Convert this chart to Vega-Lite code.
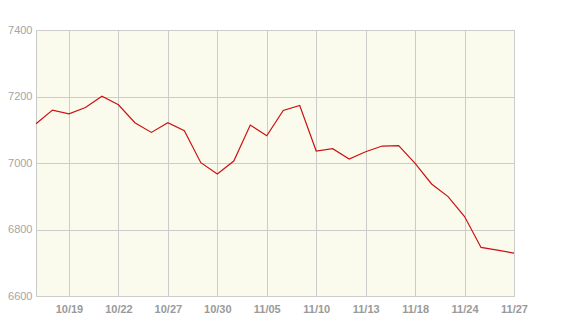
{
  "$schema": "https://vega.github.io/schema/vega-lite/v6.json",
  "width": 478,
  "height": 266,
  "autosize": "none",
  "padding": {"left": 36, "top": 30, "right": 60, "bottom": 24},
  "background": "#ffffff",
  "config": {
    "view": {"fill": "#fbfbed", "stroke": "#c8c8c8", "strokeWidth": 1},
    "axis": {"labelFont": "Liberation Sans", "labelColor": "#999999", "labelFontSize": 11, "gridColor": "#cccccc", "gridWidth": 1, "ticks": false, "domain": false, "title": null}
  },
  "data": {
    "values": [
      {"date": "10/15", "v": 7118}, {"date": "10/16", "v": 7159}, {"date": "10/19", "v": 7148},
      {"date": "10/20", "v": 7167}, {"date": "10/21", "v": 7201}, {"date": "10/22", "v": 7175},
      {"date": "10/23", "v": 7121}, {"date": "10/26", "v": 7092}, {"date": "10/27", "v": 7121},
      {"date": "10/28", "v": 7097}, {"date": "10/29", "v": 7001}, {"date": "10/30", "v": 6967},
      {"date": "11/02", "v": 7006}, {"date": "11/04", "v": 7114}, {"date": "11/05", "v": 7082},
      {"date": "11/06", "v": 7158}, {"date": "11/09", "v": 7173}, {"date": "11/10", "v": 7036},
      {"date": "11/11", "v": 7043}, {"date": "11/12", "v": 7012}, {"date": "11/13", "v": 7034},
      {"date": "11/16", "v": 7051}, {"date": "11/17", "v": 7052}, {"date": "11/18", "v": 6999},
      {"date": "11/19", "v": 6937}, {"date": "11/20", "v": 6899}, {"date": "11/24", "v": 6839},
      {"date": "11/25", "v": 6746}, {"date": "11/26", "v": 6738}, {"date": "11/27", "v": 6729}
    ]
  },
  "mark": {"type": "line", "color": "#cc1111", "strokeWidth": 1.2},
  "encoding": {
    "x": {
      "field": "date", "type": "ordinal", "sort": null,
      "scale": {"type": "point", "padding": 0},
      "axis": {"values": ["10/19", "10/22", "10/27", "10/30", "11/05", "11/10", "11/13", "11/18", "11/24", "11/27"], "labelAngle": 0, "grid": true, "labelPadding": 7, "labelFontWeight": "bold", "labelColor": "#9a9a9a"}
    },
    "y": {
      "field": "v", "type": "quantitative",
      "scale": {"domain": [6600, 7400], "nice": false, "zero": false},
      "axis": {"values": [6600, 6800, 7000, 7200, 7400], "format": "d", "grid": true, "labelPadding": 4, "labelColor": "#a5a5a5"}
    }
  }
}
